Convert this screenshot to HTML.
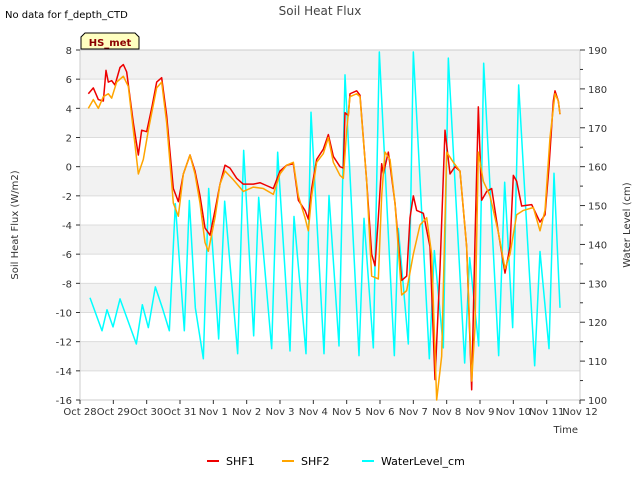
<!DOCTYPE html>
<html><head><meta charset="utf-8"><style>
body{margin:0;background:#fff;font-family:"Liberation Sans",sans-serif}
svg text{font-family:"DejaVu Sans","Liberation Sans",sans-serif}
</style></head><body>
<svg id="c" width="640" height="480" xmlns="http://www.w3.org/2000/svg"></svg>
<script>
const xTickLabels=["Oct 28","Oct 29","Oct 30","Oct 31","Nov 1","Nov 2","Nov 3","Nov 4","Nov 5","Nov 6","Nov 7","Nov 8","Nov 9","Nov 10","Nov 11","Nov 12"];
const leftTicks=[-16,-14,-12,-10,-8,-6,-4,-2,0,2,4,6,8];
const rightTicks=[100,110,120,130,140,150,160,170,180,190];
const shf1Days=[0.25,0.4,0.55,0.7,0.78,0.85,0.95,1.05,1.2,1.3,1.4,1.6,1.75,1.85,2.0,2.15,2.3,2.45,2.6,2.8,2.95,3.1,3.3,3.45,3.6,3.75,3.9,4.05,4.2,4.35,4.5,4.7,4.9,5.2,5.4,5.6,5.8,6.0,6.2,6.4,6.55,6.75,6.85,6.95,7.1,7.3,7.45,7.6,7.8,7.9,7.95,8.05,8.1,8.3,8.4,8.6,8.75,8.85,8.95,9.05,9.1,9.25,9.45,9.65,9.8,9.9,10.0,10.1,10.3,10.5,10.65,10.8,10.95,11.1,11.25,11.4,11.6,11.75,11.85,11.95,12.05,12.2,12.35,12.55,12.75,12.9,13.0,13.1,13.25,13.55,13.8,13.95,14.07,14.2,14.25,14.35,14.4];
const shf1Vals=[5.0,5.4,4.6,4.5,6.6,5.8,5.9,5.6,6.8,7.0,6.5,3.0,0.8,2.5,2.4,4.0,5.8,6.1,3.5,-1.5,-2.4,-0.5,0.8,-0.3,-2.0,-4.2,-4.7,-3.0,-1.2,0.1,-0.1,-0.8,-1.2,-1.2,-1.1,-1.3,-1.5,-0.3,0.1,0.2,-2.3,-3.0,-3.6,-1.5,0.5,1.2,2.2,0.7,0.0,-0.1,3.7,3.5,5.0,5.2,4.9,-1.0,-6.0,-6.8,-3.5,0.2,-0.5,1.0,-2.5,-7.8,-7.5,-3.5,-2.0,-3.0,-3.2,-5.5,-14.6,-7.0,2.5,-0.5,0.0,-0.3,-5.5,-15.3,-5.0,4.1,-2.3,-1.7,-1.5,-4.5,-7.3,-5.5,-0.6,-1.0,-2.7,-2.6,-3.8,-3.3,0.0,4.5,5.2,4.5,3.6];
const shf2Days=[0.25,0.4,0.55,0.7,0.85,0.95,1.1,1.3,1.45,1.6,1.75,1.9,2.05,2.3,2.45,2.6,2.8,2.95,3.1,3.3,3.45,3.6,3.75,3.85,4.05,4.2,4.35,4.6,4.9,5.2,5.5,5.8,6.0,6.2,6.4,6.55,6.75,6.85,6.95,7.1,7.3,7.45,7.6,7.8,7.9,8.0,8.1,8.3,8.4,8.6,8.75,8.95,9.05,9.15,9.3,9.45,9.65,9.8,10.0,10.2,10.4,10.55,10.7,10.85,11.0,11.2,11.4,11.6,11.75,11.85,11.95,12.1,12.3,12.55,12.75,12.9,13.1,13.3,13.6,13.8,13.95,14.1,14.25,14.35,14.4];
const shf2Vals=[4.0,4.6,4.0,4.8,5.0,4.7,5.8,6.2,5.5,2.5,-0.5,0.5,2.5,5.4,5.8,3.0,-2.5,-3.4,-0.5,0.8,-0.5,-2.5,-5.2,-5.8,-3.5,-1.2,-0.3,-0.9,-1.7,-1.4,-1.5,-1.9,-0.5,0.1,0.3,-2.0,-3.5,-4.4,-2.0,0.3,0.9,2.0,0.3,-0.6,-0.8,2.5,4.8,5.0,4.8,-1.0,-7.5,-7.7,-2.0,1.0,0.5,-2.5,-8.8,-8.5,-6.0,-4.0,-3.5,-6.0,-16.0,-13.0,1.0,0.3,-0.3,-5.5,-14.7,-11.0,1.0,-1.0,-2.0,-4.5,-7.0,-6.0,-3.3,-3.0,-2.8,-4.4,-3.0,2.0,5.0,4.5,3.6];
const waterDays=[0.30,0.66,0.81,0.99,1.20,1.69,1.87,2.05,2.26,2.47,2.68,2.86,3.13,3.28,3.46,3.70,3.86,4.16,4.34,4.73,4.91,5.21,5.36,5.75,5.93,6.30,6.42,6.78,6.93,7.32,7.47,7.77,7.95,8.37,8.52,8.80,8.98,9.43,9.55,9.85,10.00,10.48,10.63,10.90,11.05,11.54,11.69,11.96,12.11,12.56,12.74,12.98,13.16,13.64,13.80,14.07,14.22,14.40];
const waterVals=[126.3,117.8,123.2,118.8,126.0,114.4,124.5,118.6,129.1,123.7,117.8,150.5,117.8,151.3,123.7,110.6,154.4,115.7,151.1,111.9,164.2,116.5,152.1,113.2,163.7,112.6,147.2,111.9,174.0,111.9,152.6,113.9,183.6,111.4,146.7,113.4,189.5,111.4,144.1,114.4,189.5,110.6,138.4,113.4,187.9,109.5,136.6,113.9,186.6,111.4,156.0,118.6,181.0,108.8,138.2,113.2,158.3,123.7];

const L=80,R=580,T=50,B=400;
const X=d=>L+d*(R-L)/15;
const Y=v=>B-(v+16)*(B-T)/24;
const Y2=w=>B-(w-100)*(B-T)/90;
const svg=document.getElementById('c');
const NS='http://www.w3.org/2000/svg';
function mk(tag,attrs,parent){const e=document.createElementNS(NS,tag);for(const k in attrs)e.setAttribute(k,attrs[k]);(parent||svg).appendChild(e);return e;}
function txt(s,attrs){const e=mk('text',attrs);e.textContent=s;return e;}

// bands
for(let v=-14;v<8;v+=4){const r=mk('rect',{x:L,y:Y(v+2),width:R-L,height:Y(v)-Y(v+2),fill:'#f2f2f2'});

}
leftTicks.forEach(v=>{const l=mk('line',{x1:L,x2:R,y1:Y(v),y2:Y(v),stroke:'#dcdcdc','stroke-width':1});

});
const frame=mk('rect',{x:L,y:T,width:R-L,height:B-T,fill:'none',stroke:'#cccccc'});



// left ticks
leftTicks.forEach(v=>{mk('line',{x1:L-4,x2:L,y1:Y(v),y2:Y(v),stroke:'#333'});
const t=txt(String(v),{x:L-8,y:Y(v)+4,'text-anchor':'end','font-size':10,fill:'#333'});

});
// right ticks
for(let w=100;w<=190;w+=5){mk('line',{x1:R,x2:R+(w%10?3:5),y1:Y2(w),y2:Y2(w),stroke:'#333'});}
rightTicks.forEach(w=>{const t=txt(String(w),{x:R+8,y:Y2(w)+4,'font-size':10,fill:'#333'});

});
// x ticks
xTickLabels.forEach((s,i)=>{mk('line',{x1:X(i),x2:X(i),y1:B,y2:B+4,stroke:'#333'});
const t=txt(s,{x:X(i),y:B+15,'text-anchor':'middle','font-size':10,fill:'#333'});

});

function line(days,vals,yf,color,name){
 const p=mk('polyline',{points:days.map((d,i)=>X(d)+','+yf(vals[i])).join(' '),fill:'none',stroke:color,'stroke-width':1.5,'stroke-linejoin':'round'});
 
 
}
line(waterDays,waterVals,Y2,'#00ffff','waterlevel-line');
line(shf1Days,shf1Vals,Y,'#ee0000','shf1-line');
line(shf2Days,shf2Vals,Y,'#ffa500','shf2-line');

const t1=txt('Soil Heat Flux',{x:320,y:15,'text-anchor':'middle','font-size':12,fill:'#444'});


const t2=txt('No data for f_depth_CTD',{x:5,y:18,'font-size':10,fill:'#000'});


const yt=txt('Soil Heat Flux (W/m2)',{x:18,y:225,'text-anchor':'middle','font-size':10,fill:'#333',transform:'rotate(-90 18 225)'});


const y2t=txt('Water Level (cm)',{x:630,y:225,'text-anchor':'middle','font-size':10,fill:'#333',transform:'rotate(-90 630 225)'});


const xt=txt('Time',{x:578,y:433,'text-anchor':'end','font-size':10,fill:'#333'});



const hb=mk('path',{d:'M81,49 L81,37 L85,33 L135,33 L139,37 L139,49 Z',fill:'#ffffc0',stroke:'#000'});


const ht=txt('HS_met',{x:110,y:46,'text-anchor':'middle','font-size':10,'font-weight':'bold',fill:'#8b0000'});



[['SHF1','#ee0000',207],['SHF2','#ffa500',282],['WaterLevel_cm','#00ffff',362]].forEach(([n,c,x])=>{
 const g=mk('g',{});
 
 
 mk('line',{x1:x,x2:x+12,y1:461,y2:461,stroke:c,'stroke-width':2},g);
 const t=mk('text',{x:x+19,y:465,'font-size':11,fill:'#000'},g);t.textContent=n;
});
</script>
</body></html>
